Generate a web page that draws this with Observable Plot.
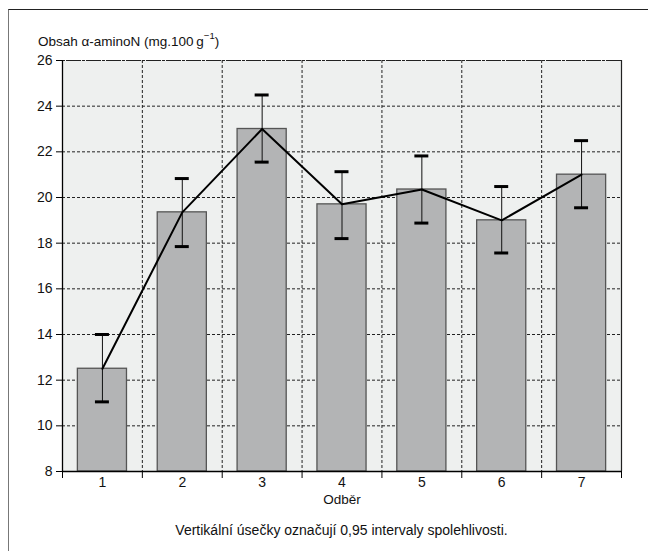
<!DOCTYPE html>
<html>
<head>
<meta charset="utf-8">
<script src="https://cdn.jsdelivr.net/npm/d3@7"></script>
<script src="https://cdn.jsdelivr.net/npm/@observablehq/plot@0.6"></script>
<style>
  body { margin: 0; background: #fff; font-family: "Liberation Sans", Arial, sans-serif; color: #111; }
  #wrap { position: relative; width: 648px; height: 551px; overflow: hidden; }
  #box { position: absolute; left: 8px; top: 9px; width: 720px; height: 620px; border-top: 1.5px solid #222; border-left: 1.5px solid #777; }
  #ylab { position: absolute; left: 38px; top: 31px; font-size: 13.5px; white-space: nowrap; }
  #ylab sup { font-size: 9.5px; position: relative; top: -1px; }
  #cap { position: absolute; left: 0; width: 683px; top: 522px; text-align: center; font-size: 14px; }
  #chart { position: absolute; left: 0; top: 0; }
</style>
</head>
<body>
<div id="wrap">
  <div id="box"></div>
  <div id="chart"></div>
  <div id="ylab">Obsah α-aminoN (mg.100&#8201;g<sup>−1</sup>)</div>
  <div id="cap">Vertikální úsečky označují 0,95 intervaly spolehlivosti.</div>
</div>
<script>
// Sampling rounds (Odběr) with mean α-aminoN content and 0.95 confidence limits
const samples = [1, 2, 3, 4, 5, 6, 7];
const means = [12.5, 19.35, 23.0, 19.7, 20.35, 19.0, 21.0];
const lower = [11.05, 17.85, 21.55, 18.2, 18.88, 17.57, 19.55];
const upper = [14.0, 20.83, 24.49, 21.13, 21.82, 20.48, 22.49];
const yTicks = [8, 10, 12, 14, 16, 18, 20, 22, 24, 26];

const rows = samples.map((k, i) => ({k, mean: means[i], lo: lower[i], hi: upper[i]}));
// category boundaries sit halfway between neighbouring samples
const bounds = [samples[0] - 0.5, ...samples.map(k => k + 0.5)];
const inner = bounds.slice(1, -1);

const barHalf = 0.3075;  // half bar width, in category units
const capHalf = 0.0875;  // half error-cap width, in category units

const chart = Plot.plot({
  width: 648,
  height: 551,
  marginLeft: 62,
  marginRight: 27,
  marginTop: 60,
  marginBottom: 80,
  style: {
    fontFamily: '"Liberation Sans", Arial, sans-serif',
    fontSize: "14px",
    color: "#111",
    background: "transparent"
  },
  x: {domain: [bounds[0], bounds[bounds.length - 1]]},
  y: {domain: [yTicks[0], yTicks[yTicks.length - 1]]},
  marks: [
    Plot.frame({fill: "#eef0ef", stroke: null}),
    Plot.ruleY(yTicks, {stroke: "#222", strokeDasharray: "3,2", strokeWidth: 1}),
    Plot.ruleX(inner, {stroke: "#222", strokeDasharray: "3,2", strokeWidth: 1}),
    Plot.rectY(rows, {
      x1: d => d.k - barHalf,
      x2: d => d.k + barHalf,
      y1: yTicks[0],
      y2: "mean",
      fill: "#b3b4b5",
      stroke: "#555",
      strokeWidth: 1.3
    }),
    Plot.ruleX(rows, {x: "k", y1: "lo", y2: "hi", stroke: "#111", strokeWidth: 1}),
    Plot.ruleY(rows, {y: "lo", x1: d => d.k - capHalf, x2: d => d.k + capHalf, stroke: "#000", strokeWidth: 3}),
    Plot.ruleY(rows, {y: "hi", x1: d => d.k - capHalf, x2: d => d.k + capHalf, stroke: "#000", strokeWidth: 3}),
    Plot.line(rows, {x: "k", y: "mean", stroke: "#000", strokeWidth: 2}),
    Plot.ruleX([bounds[bounds.length - 1]], {stroke: "#222", strokeWidth: 1.2}),
    Plot.ruleY([yTicks[yTicks.length - 1]], {stroke: "#222", strokeDasharray: "3,1", strokeWidth: 1.2}),
    Plot.ruleX([bounds[0]], {stroke: "#000", strokeWidth: 1.3}),
    Plot.ruleY([yTicks[0]], {stroke: "#000", strokeWidth: 1.3}),
    Plot.axisY({ticks: yTicks, tickSize: 6, tickPadding: 4, label: null, stroke: "#000"}),
    Plot.axisX({ticks: bounds, tickFormat: () => "", tickSize: 7, label: null, stroke: "#000"}),
    Plot.axisX({ticks: samples, tickFormat: d => String(d), tickSize: 0, tickPadding: 6, label: null}),
    Plot.text(["Odběr"], {frameAnchor: "bottom", dy: 32, fontSize: 13.5, fill: "#111"})
  ]
});
document.getElementById("chart").append(chart);
</script>
</body>
</html>
